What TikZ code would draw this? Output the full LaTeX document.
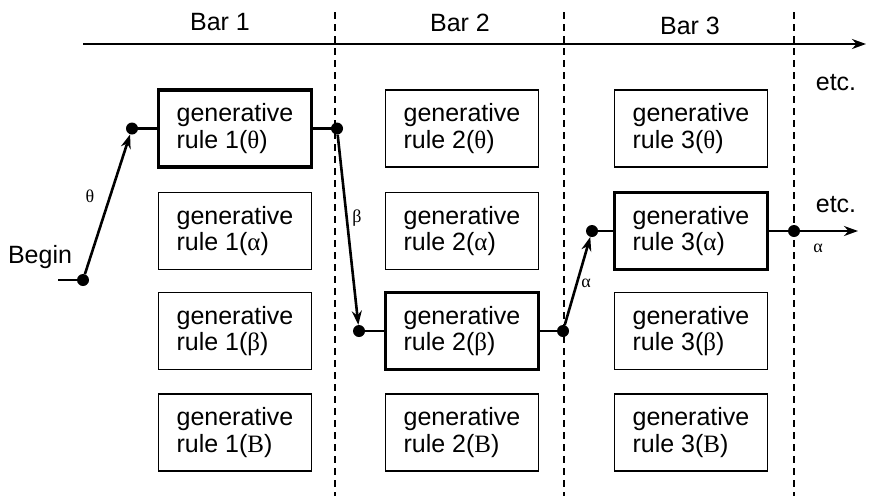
\documentclass[tikz,border=0pt]{standalone}
\usepackage{fontspec}
\setmainfont{Liberation Sans}
\newfontfamily\grk{Liberation Serif}
\usetikzlibrary{arrows.meta}
\begin{document}
\begin{tikzpicture}[x=1pt,y=-1pt,
 rule/.style={draw, line width=1.9pt, minimum width=153pt, minimum height=77pt, align=left, font=\fontsize{25}{26.5}\selectfont, inner sep=0pt},
 chosen/.style={rule, line width=3.6pt},
 dot/.style={circle, fill=black, inner sep=0pt, minimum size=12pt},
 conn/.style={line width=2.6pt},
 arr/.style={conn, -{Stealth[length=14pt,width=10pt]}},
 barline/.style={line width=1.6pt, dash pattern=on 7pt off 5pt},
 lbl/.style={font=\fontsize{25}{27}\selectfont},
 glbl/.style={font=\grk\fontsize{18}{20}\selectfont}]
\useasboundingbox (0,0) rectangle (870,496);
% time axis
\coordinate (ta) at (83,44);
\coordinate (tb) at (866,44);
\draw[arr] (ta) -- (tb);
\node[lbl] (bar1) at (220,22) {Bar 1};
\node[lbl] (bar2) at (460,23) {Bar 2};
\node[lbl] (bar3) at (690,26) {Bar 3};
\node[lbl] (etc1) at (836,83) {etc.};
\node[lbl] (etc2) at (836,205) {etc.};
% bar separators
\foreach \x/\n in {335/s1,564/s2,794/s3}{
  \coordinate (\n t) at (\x,12);
  \coordinate (\n b) at (\x,496);
  \draw[barline] (\n t) -- (\n b);
}
% boxes
\node[chosen] (r1t) at (235,128.5) {generative\\rule 1({\grk θ})};
\node[rule]   (r1a) at (235,231)   {generative\\rule 1({\grk α})};
\node[rule]   (r1b) at (235,331)   {generative\\rule 1({\grk β})};
\node[rule]   (r1B) at (235,432.5) {generative\\rule 1({\grk B})};
\node[rule]   (r2t) at (462,128.5) {generative\\rule 2({\grk θ})};
\node[rule]   (r2a) at (462,231)   {generative\\rule 2({\grk α})};
\node[chosen] (r2b) at (462,331)   {generative\\rule 2({\grk β})};
\node[rule]   (r2B) at (462,432.5) {generative\\rule 2({\grk B})};
\node[rule]   (r3t) at (691,128.5) {generative\\rule 3({\grk θ})};
\node[chosen] (r3a) at (691,231)   {generative\\rule 3({\grk α})};
\node[rule]   (r3b) at (691,331)   {generative\\rule 3({\grk β})};
\node[rule]   (r3B) at (691,432.5) {generative\\rule 3({\grk B})};
% path
\node[lbl] (begin) at (40,257) {Begin};
\coordinate (b0) at (58,280);
\node[dot] (d0) at (83,280) {};
\node[dot] (d1) at (132,128.5) {};
\node[dot] (d2) at (337,128.5) {};
\node[dot] (d3) at (359,331) {};
\node[dot] (d4) at (563,331) {};
\node[dot] (d5) at (592,231) {};
\node[dot] (d6) at (794,231) {};
\coordinate (e) at (858,231);
\draw[conn] (b0) -- (d0.center);
\draw[arr] (d0) -- (d1);
\draw[conn] (d1.center) -- (r1t.west);
\draw[conn] (r1t.east) -- (d2.center);
\draw[arr] (d2) -- (d3);
\draw[conn] (d3.center) -- (r2b.west);
\draw[conn] (r2b.east) -- (d4.center);
\draw[arr] (d4) -- (d5);
\draw[conn] (d5.center) -- (r3a.west);
\draw[conn] (r3a.east) -- (d6.center);
\draw[arr] (d6.center) -- (e);
% labels
\node[glbl] (lt) at (90,196) {θ};
\node[glbl] (lb) at (357,218) {β};
\node[glbl] (la) at (586,283) {α};
\node[glbl] (la2) at (818,248) {α};
\end{tikzpicture}
\end{document}
